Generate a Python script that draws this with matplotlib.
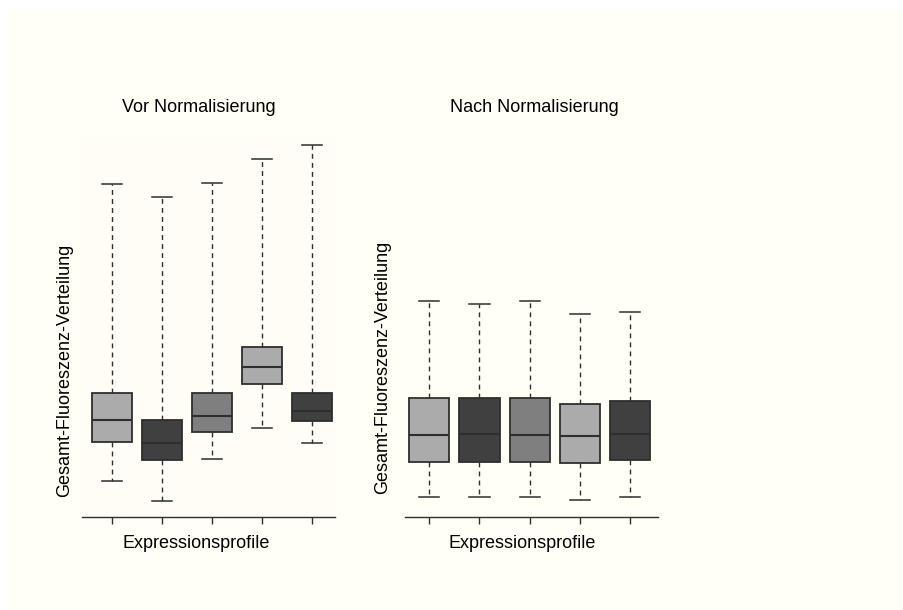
import matplotlib.pyplot as plt
from matplotlib.patches import Rectangle

plt.rcParams['font.family'] = ['Liberation Sans', 'DejaVu Sans']

# Five expression profiles, box statistics per panel (log2 scale)
profiles = ['1', '2', '3', '4', '5']
box_colors = ['#ababab', '#404040', '#7f7f7f', '#ababab', '#404040']

vor_low = [6.90, 6.40, 7.45, 8.23, 7.86]
vor_q1 = [7.88, 7.43, 8.13, 9.32, 8.41]
vor_med = [8.43, 7.86, 8.53, 9.74, 8.66]
vor_q3 = [9.09, 8.43, 9.11, 10.24, 9.11]
vor_high = [14.32, 14.01, 14.34, 14.96, 15.29]

nach_low = [6.49, 6.49, 6.49, 6.42, 6.49]
nach_q1 = [7.38, 7.38, 7.38, 7.35, 7.43]
nach_med = [8.05, 8.08, 8.05, 8.03, 8.08]
nach_q3 = [8.98, 8.97, 8.98, 8.83, 8.90]
nach_high = [11.41, 11.32, 11.41, 11.08, 11.13]

bg = '#fffff5'
edge = '#2e2e2e'

fig = plt.figure(figsize=(9.04, 6.10), dpi=100)
fig.patch.set_facecolor('white')
fig.patches.append(Rectangle((7 / 904, 0), 1, 600 / 610, transform=fig.transFigure,
                             facecolor=bg, edgecolor='none', zorder=-10))


def draw_panel(ax, low, q1, med, q3, high, xlim, face):
    stats = []
    for i in range(len(profiles)):
        stats.append({'label': profiles[i], 'whislo': low[i], 'q1': q1[i],
                      'med': med[i], 'q3': q3[i], 'whishi': high[i]})
    parts = ax.bxp(stats, positions=range(1, len(profiles) + 1), widths=0.8,
                   capwidths=0.4, showfliers=False, patch_artist=True,
                   boxprops=dict(edgecolor=edge, linewidth=1.3),
                   medianprops=dict(color=edge, linewidth=1.5),
                   whiskerprops=dict(color=edge, linewidth=1.0, linestyle=(0, (3.5, 3))),
                   capprops=dict(color=edge, linewidth=1.1))
    for box, c in zip(parts['boxes'], box_colors):
        box.set_facecolor(c)
    ax.set_facecolor(face)
    ax.set_xlim(xlim)
    ax.set_ylim(6.0, 15.5)
    for side in ['top', 'right', 'left']:
        ax.spines[side].set_visible(False)
    ax.spines['bottom'].set_color(edge)
    ax.spines['bottom'].set_linewidth(1.0)
    ax.set_xticks(range(1, len(profiles) + 1))
    ax.set_xticklabels([])
    ax.set_yticks([])
    ax.tick_params(axis='x', direction='out', length=5, width=1.0, color=edge)


ax1 = fig.add_axes([82 / 904, 93 / 610, 253 / 904, 380 / 610])
draw_panel(ax1, vor_low, vor_q1, vor_med, vor_q3, vor_high, (0.407, 5.46), '#fffdf6')

ax2 = fig.add_axes([405 / 904, 93 / 610, 253 / 904, 380 / 610])
draw_panel(ax2, nach_low, nach_q1, nach_med, nach_q3, nach_high, (0.516, 5.558), bg)
ax2.patch.set_alpha(0)

fs = 13
fig.text(199 / 904, 1 - 108 / 610, 'Vor Normalisierung', ha='center', va='center', fontsize=fs)
fig.text(534 / 904, 1 - 108 / 610, 'Nach Normalisierung', ha='center', va='center', fontsize=fs)
fig.text(196 / 904, 1 - 544 / 610, 'Expressionsprofile', ha='center', va='center', fontsize=fs)
fig.text(522 / 904, 1 - 544 / 610, 'Expressionsprofile', ha='center', va='center', fontsize=fs)
fig.text(65 / 904, 1 - 370 / 610, 'Gesamt-Fluoreszenz-Verteilung', ha='center', va='center',
         rotation=90, fontsize=fs)
fig.text(383 / 904, 1 - 367 / 610, 'Gesamt-Fluoreszenz-Verteilung', ha='center', va='center',
         rotation=90, fontsize=fs)

fig.savefig('out.png', dpi=100, facecolor=fig.get_facecolor())
